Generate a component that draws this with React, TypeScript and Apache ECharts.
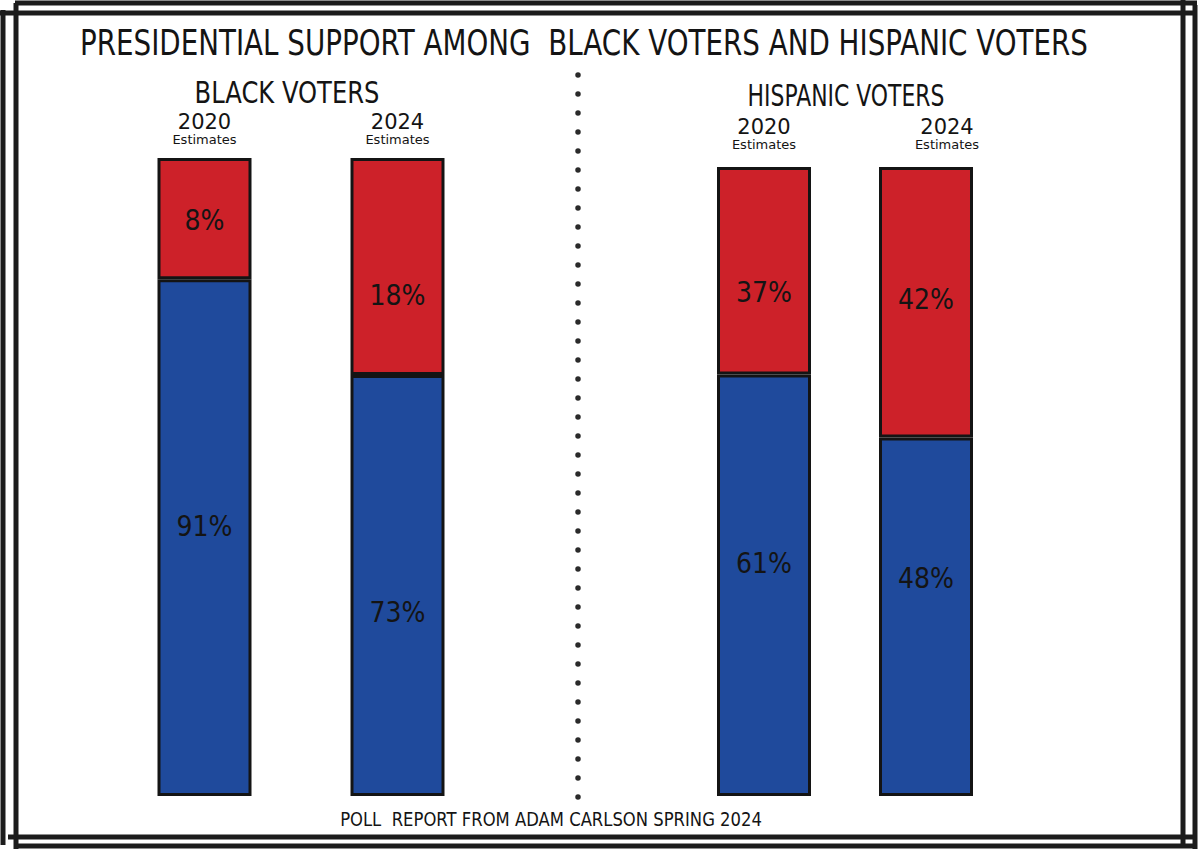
import React, { useEffect, useRef } from "react";
import * as echarts from "echarts";

const chartTitle = "PRESIDENTIAL SUPPORT AMONG  BLACK VOTERS AND HISPANIC VOTERS";
const groupTitles = ["BLACK VOTERS", "HISPANIC VOTERS"];
const years = ["2020", "2024"];
const yearNote = "Estimates";
const sourceNote = "POLL  REPORT FROM ADAM CARLSON SPRING 2024";

// printed percentages (Republican = red, Democrat = blue)
const blackRepublican = [8, 18];
const blackDemocrat = [91, 73];
const hispanicRepublican = [37, 42];
const hispanicDemocrat = [61, 48];

// segment heights as drawn in the hand-made chart (share of bar height, %)
const blackRedDrawn = [19, 34];
const blackBlueDrawn = [81, 66];
const hispanicRedDrawn = [33, 43];
const hispanicBlueDrawn = [67, 57];

// styling: vertical nudges of the hand-placed labels (px)
const STYLE_LABEL_DY = {
  blackRed: [2, 29],
  blackBlue: [-11, 27],
  hispRed: [22, -3],
  hispBlue: [-22, -38],
};

const RED = "#cd2129";
const BLUE = "#1f4a9c";
const INK = "#141414";
const FONT = "'DejaVu Sans'";
const LABEL_FONT = "'DejaVu Sans Condensed', 'DejaVu Sans'";

function fitScale(text: string, fontSize: number, family: string, target: number) {
  const ctx = document.createElement("canvas").getContext("2d");
  if (!ctx) return 1;
  ctx.font = `${fontSize}px ${family}`;
  const w = ctx.measureText(text).width;
  return w > 0 ? target / w : 1;
}

function fittedText(text: string, cx: number, cy: number, fontSize: number, width: number) {
  return {
    type: "text",
    x: cx,
    y: cy,
    scaleX: fitScale(text, fontSize, FONT, width),
    scaleY: 1,
    style: {
      text,
      fill: INK,
      font: `${fontSize}px ${FONT}`,
      align: "center",
      verticalAlign: "middle",
    },
  };
}

function frameLine(x1: number, y1: number, x2: number, y2: number) {
  return {
    type: "line",
    shape: { x1, y1, x2, y2 },
    style: { stroke: "#1c1c1c", lineWidth: 5 },
    z: 10,
  };
}

function xAxisFor(gridIndex: number, margin: number, padLeft: number[]) {
  return {
    type: "category",
    gridIndex,
    position: "top",
    data: years.map((y, i) =>
      padLeft[i] ? { value: y, textStyle: { padding: [0, 0, 0, padLeft[i]] } } : y
    ),
    axisLine: { show: false },
    axisTick: { show: false },
    axisLabel: {
      margin,
      color: INK,
      formatter: (v: string) => `{y|${v}}\n{e|${yearNote}}`,
      rich: {
        y: { fontSize: 21, fontFamily: FONT, color: INK, lineHeight: 21 },
        e: { fontSize: 13, fontFamily: FONT, color: INK, lineHeight: 14 },
      },
    },
  };
}

function barSeries(
  axis: number,
  stack: string,
  color: string,
  drawn: number[],
  printed: number[],
  dy: number[]
) {
  return {
    type: "bar",
    xAxisIndex: axis,
    yAxisIndex: axis,
    stack,
    barWidth: 94,
    data: drawn.map((v, i) => ({ value: v, label: { offset: [0, dy[i]] } })),
    itemStyle: { color, borderColor: INK, borderWidth: 3 },
    label: {
      show: true,
      position: "inside",
      formatter: (p: any) => `${printed[p.dataIndex]}%`,
      fontSize: 28,
      fontFamily: LABEL_FONT,
      color: INK,
      textBorderWidth: 0,
    },
  };
}

export default function App() {
  const ref = useRef<HTMLDivElement>(null);

  useEffect(() => {
    document.body.style.margin = "0";
    if (!ref.current) return;
    const chart = echarts.init(ref.current, undefined, { renderer: "svg" });
    chart.setOption({
      animation: false,
      backgroundColor: "#ffffff",
      grid: [
        { left: 108, width: 386, top: 158, height: 638 },
        { left: 683, width: 324, top: 167, height: 629 },
      ],
      xAxis: [xAxisFor(0, 12, [0, 0]), xAxisFor(1, 16, [0, 42])],
      yAxis: [
        { type: "value", gridIndex: 0, min: 0, max: 100, show: false },
        { type: "value", gridIndex: 1, min: 0, max: 100, show: false },
      ],
      series: [
        barSeries(0, "black", BLUE, blackBlueDrawn, blackDemocrat, STYLE_LABEL_DY.blackBlue),
        barSeries(0, "black", RED, blackRedDrawn, blackRepublican, STYLE_LABEL_DY.blackRed),
        barSeries(1, "hisp", BLUE, hispanicBlueDrawn, hispanicDemocrat, STYLE_LABEL_DY.hispBlue),
        barSeries(1, "hisp", RED, hispanicRedDrawn, hispanicRepublican, STYLE_LABEL_DY.hispRed),
      ],
      graphic: [
        fittedText(chartTitle, 584, 43, 36, 1008),
        fittedText(groupTitles[0], 287, 92, 31, 185),
        fittedText(groupTitles[1], 846, 95, 31, 197),
        fittedText(sourceNote, 551, 820, 19, 422),
        {
          type: "line",
          shape: { x1: 578, y1: 75, x2: 578, y2: 798 },
          style: { stroke: "#2a2a2a", lineWidth: 5.5, lineCap: "round", lineDash: [0, 19] },
        },
        frameLine(15, 3, 1197, 3),
        frameLine(0, 13, 1195, 13),
        frameLine(8, 837, 1195, 837),
        frameLine(15, 846, 1197, 846),
        frameLine(3, 10, 3, 845),
        frameLine(16, 3, 16, 849),
        frameLine(1183, 0, 1183, 846),
        frameLine(1195, 5, 1195, 849),
      ],
    });
    return () => chart.dispose();
  }, []);

  return <div ref={ref} style={{ width: 1200, height: 849 }} />;
}
